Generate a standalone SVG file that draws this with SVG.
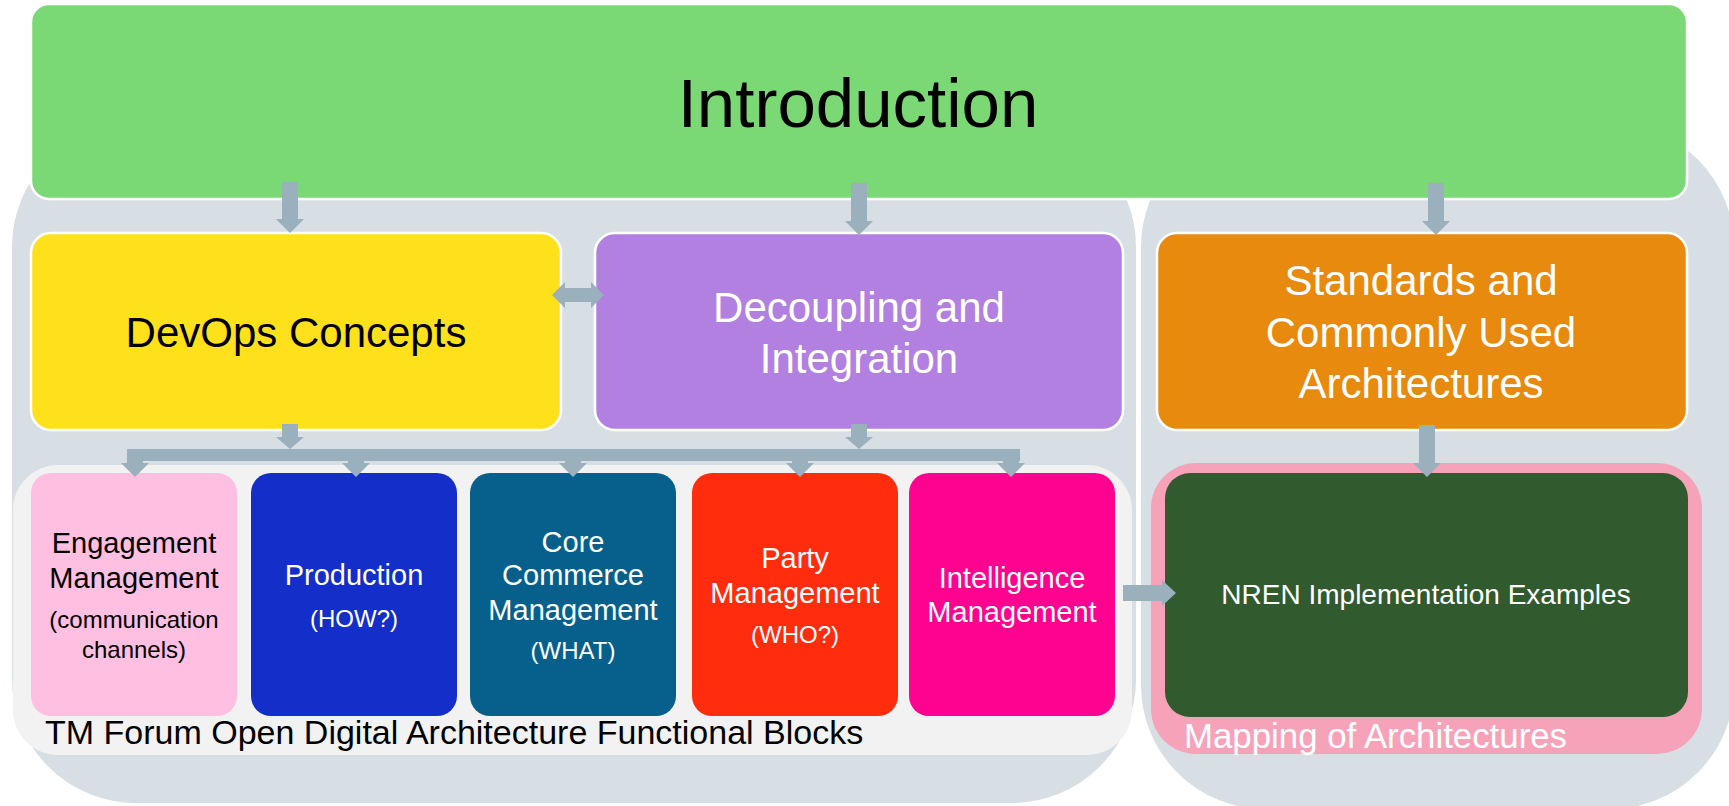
<svg xmlns="http://www.w3.org/2000/svg" width="1729" height="806" viewBox="0 0 1729 806">
<style>
.t{font-family:"Liberation Sans",Arial,sans-serif;text-anchor:middle}
.w{fill:#ffffff}
.k{fill:#000000}
.big{font-size:42px}
.mid{font-size:29px}
.sm{font-size:24px}
.arr{fill:#9BB0BD}
.box{stroke:#ffffff;stroke-width:2.5}
</style>
<rect width="1729" height="806" fill="#ffffff"/>
<g id="containers">
<rect id="left-container" x="11" y="122" width="1126" height="682" rx="125" fill="#D7DFE5" stroke="#ffffff" stroke-width="2"/>
<rect id="right-container" x="1140" y="122" width="595" height="688" rx="125" fill="#D7DFE5" stroke="#ffffff" stroke-width="2"/>
</g>
<g id="odaPanel">
<rect x="13" y="465" width="1119" height="290" rx="45" fill="#F2F2F2"/>
<text x="45" y="744" style="font-family:'Liberation Sans',Arial,sans-serif;font-size:34px" fill="#000">TM Forum Open Digital Architecture Functional Blocks</text>
</g>
<g id="mappingPanel">
<rect x="1151" y="463" width="551" height="291" rx="45" fill="#F6A3BA"/>
<text x="1184" y="748" style="font-family:'Liberation Sans',Arial,sans-serif;font-size:34.8px" fill="#ffffff">Mapping of Architectures</text>
</g>
<g id="introduction">
<rect class="box" x="31" y="4" width="1656" height="195" rx="18" fill="#7AD974"/>
<text class="t k" x="858" y="127" style="font-size:69px">Introduction</text>
</g>
<g id="devops">
<rect class="box" x="31" y="233" width="530" height="197" rx="20" fill="#FEE01B"/>
<text class="t k big" x="296" y="347">DevOps Concepts</text>
</g>
<g id="decoupling">
<rect class="box" x="595" y="233" width="528" height="197" rx="20" fill="#B280E1"/>
<text class="t w big" x="859" y="322">Decoupling and</text>
<text class="t w big" x="859" y="373">Integration</text>
</g>
<g id="standards">
<rect class="box" x="1157" y="233" width="530" height="197" rx="20" fill="#E78A0E"/>
<text class="t w big" x="1421" y="295">Standards and</text>
<text class="t w big" x="1421" y="347">Commonly Used</text>
<text class="t w big" x="1421" y="398">Architectures</text>
</g>
<g id="engagement">
<rect x="31" y="473" width="206" height="243" rx="20" fill="#FEBFE0"/>
<text class="t k mid" x="134" y="553">Engagement</text>
<text class="t k mid" x="134" y="588">Management</text>
<text class="t k sm" x="134" y="628">(communication</text>
<text class="t k sm" x="134" y="658">channels)</text>
</g>
<g id="production">
<rect x="251" y="473" width="206" height="243" rx="20" fill="#142ECA"/>
<text class="t w mid" x="354" y="585">Production</text>
<text class="t w sm" x="354" y="627">(HOW?)</text>
</g>
<g id="corecommerce">
<rect x="470" y="473" width="206" height="243" rx="20" fill="#07608B"/>
<text class="t w mid" x="573" y="552">Core</text>
<text class="t w mid" x="573" y="585">Commerce</text>
<text class="t w mid" x="573" y="620">Management</text>
<text class="t w sm" x="573" y="659">(WHAT)</text>
</g>
<g id="party">
<rect x="692" y="473" width="206" height="243" rx="20" fill="#FF2D0E"/>
<text class="t w mid" x="795" y="568">Party</text>
<text class="t w mid" x="795" y="603">Management</text>
<text class="t w sm" x="795" y="643">(WHO?)</text>
</g>
<g id="intelligence">
<rect x="909" y="473" width="206" height="243" rx="20" fill="#FE0390"/>
<text class="t w mid" x="1012" y="588">Intelligence</text>
<text class="t w mid" x="1012" y="622">Management</text>
</g>
<g id="nren">
<rect x="1165" y="473" width="523" height="244" rx="25" fill="#315A2F"/>
<text class="t w" x="1426" y="604" style="font-size:28px">NREN Implementation Examples</text>
</g>
<g id="connectors">
<polygon class="arr" points="282,182 298,182 298,219 304,219 290,233 276,219 282,219"/>
<polygon class="arr" points="851,183 867,183 867,221 873,221 859,235 845,221 851,221"/>
<polygon class="arr" points="1428,183 1444,183 1444,221 1450,221 1436,235 1422,221 1428,221"/>
<polygon class="arr" points="552,295 565,282 565,288 591,288 591,282 604,295 591,308 591,302 565,302 565,308"/>
<polygon class="arr" points="282,424 298,424 298,437 304,437 290,449 276,437 282,437"/>
<polygon class="arr" points="851,424 867,424 867,437 873,437 859,449 845,437 851,437"/>
<rect class="arr" x="127" y="449" width="893" height="12"/>
<polygon class="arr" points="127,455 143,455 143,463 149,463 135,477 121,463 127,463"/>
<polygon class="arr" points="348,455 364,455 364,463 370,463 356,477 342,463 348,463"/>
<polygon class="arr" points="565,455 581,455 581,463 587,463 573,477 559,463 565,463"/>
<polygon class="arr" points="792,455 808,455 808,463 814,463 800,477 786,463 792,463"/>
<polygon class="arr" points="1003,455 1019,455 1019,463 1025,463 1011,477 997,463 1003,463"/>
<polygon class="arr" points="1419,425 1435,425 1435,463 1441,463 1427,477 1413,463 1419,463"/>
<polygon class="arr" points="1123,585 1162,585 1162,580 1176,593 1162,606 1162,601 1123,601"/>
</g>
</svg>
